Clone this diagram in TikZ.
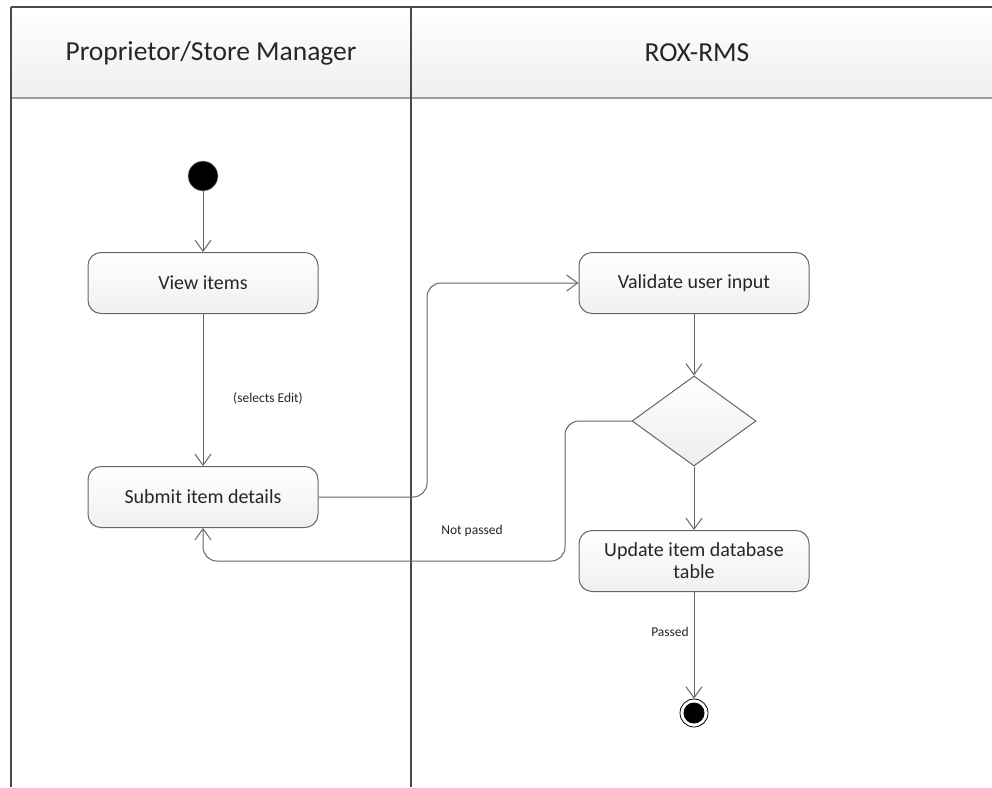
\documentclass[tikz,border=0pt]{standalone}
\usepackage{fontspec}
\setmainfont{Carlito}
\usetikzlibrary{arrows.meta,shapes.geometric}

\definecolor{lane}{HTML}{4A4A4A}
\definecolor{edge}{HTML}{666666}
\definecolor{ink}{HTML}{262626}

\tikzset{
  activity/.style={draw=edge, line width=1pt, rounded corners=13pt,
    top color=white, bottom color=gray!12, text=ink,
    minimum width=230pt, minimum height=61pt, font=\fontsize{20}{22}\selectfont,
    align=center, inner sep=2pt},
  decision/.style={diamond, draw=edge, line width=1pt,
    top color=white, bottom color=gray!14,
    minimum width=124pt, minimum height=90pt, inner sep=0pt},
  startnode/.style={circle, fill=black, draw=gray!60, line width=0.6pt,
    minimum size=30pt, inner sep=0pt},
  endnode/.style={circle, draw=black, line width=0.8pt, fill=white,
    minimum size=28pt, inner sep=0pt,
    path picture={\fill[black] (path picture bounding box.center) circle (10.5pt);}},
  flow/.style={draw=edge, line width=1pt, rounded corners=14pt,
    -{Straight Barb[length=11pt,width=16pt,line width=1pt]}},
  guard/.style={font=\fontsize{13.5}{15}\selectfont, text=ink, inner sep=1pt},
  lanehead/.style={font=\fontsize{27.5}{32}\selectfont, text=ink},
}

\begin{document}
\begin{tikzpicture}[x=1pt, y=-1pt]
  \useasboundingbox (0,0) rectangle (992,787);
  \fill[white] (0,0) rectangle (992,787);

  % swimlane headers
  \shade[top color=white, bottom color=gray!13] (11,7) rectangle (992,98);
  \draw[lane, line width=1.2pt] (11,7) -- (992,7);
  \draw[gray!75, line width=2.2pt] (11,98) -- (992,98);
  \draw[lane, line width=1.2pt] (11,7) -- (11,787);
  \draw[lane, line width=1.2pt] (411,7) -- (411,787);
  \node[lanehead] (h1) at (211,53) {Proprietor/Store Manager};
  \node[lanehead] (h2) at (697,53) {ROX-RMS};

  % activities
  \node[startnode] (start) at (203,176) {};
  \node[activity] (view) at (203,283) {View items};
  \node[activity] (submit) at (203,497) {Submit item details};
  \node[activity] (validate) at (694,283) {Validate user input};
  \node[decision] (dec) at (694,421) {};
  \node[activity] (update) at (694,561) {Update item database\\table};
  \node[endnode] (stop) at (694,713) {};

  % bend points of the routed connectors
  \coordinate (j1) at (427,283);
  \coordinate (j2) at (565,561);

  % connectors
  \draw[flow] (start) -- (view);
  \draw[flow] (view) -- (submit);
  \draw[flow] (submit.east) -| (j1) -- (validate.west);
  \draw[flow] (validate) -- (dec);
  \draw[flow] (dec) -- (update);
  \draw[flow] (dec.west) -| (j2) -| (submit.south);
  \draw[flow] (update) -- (stop);

  % guards
  \node[guard] (g1) at (268,398) {(selects Edit)};
  \node[guard] (g2) at (472,531) {Not passed};
  \node[guard] (g3) at (670,632) {Passed};
\end{tikzpicture}
\end{document}
